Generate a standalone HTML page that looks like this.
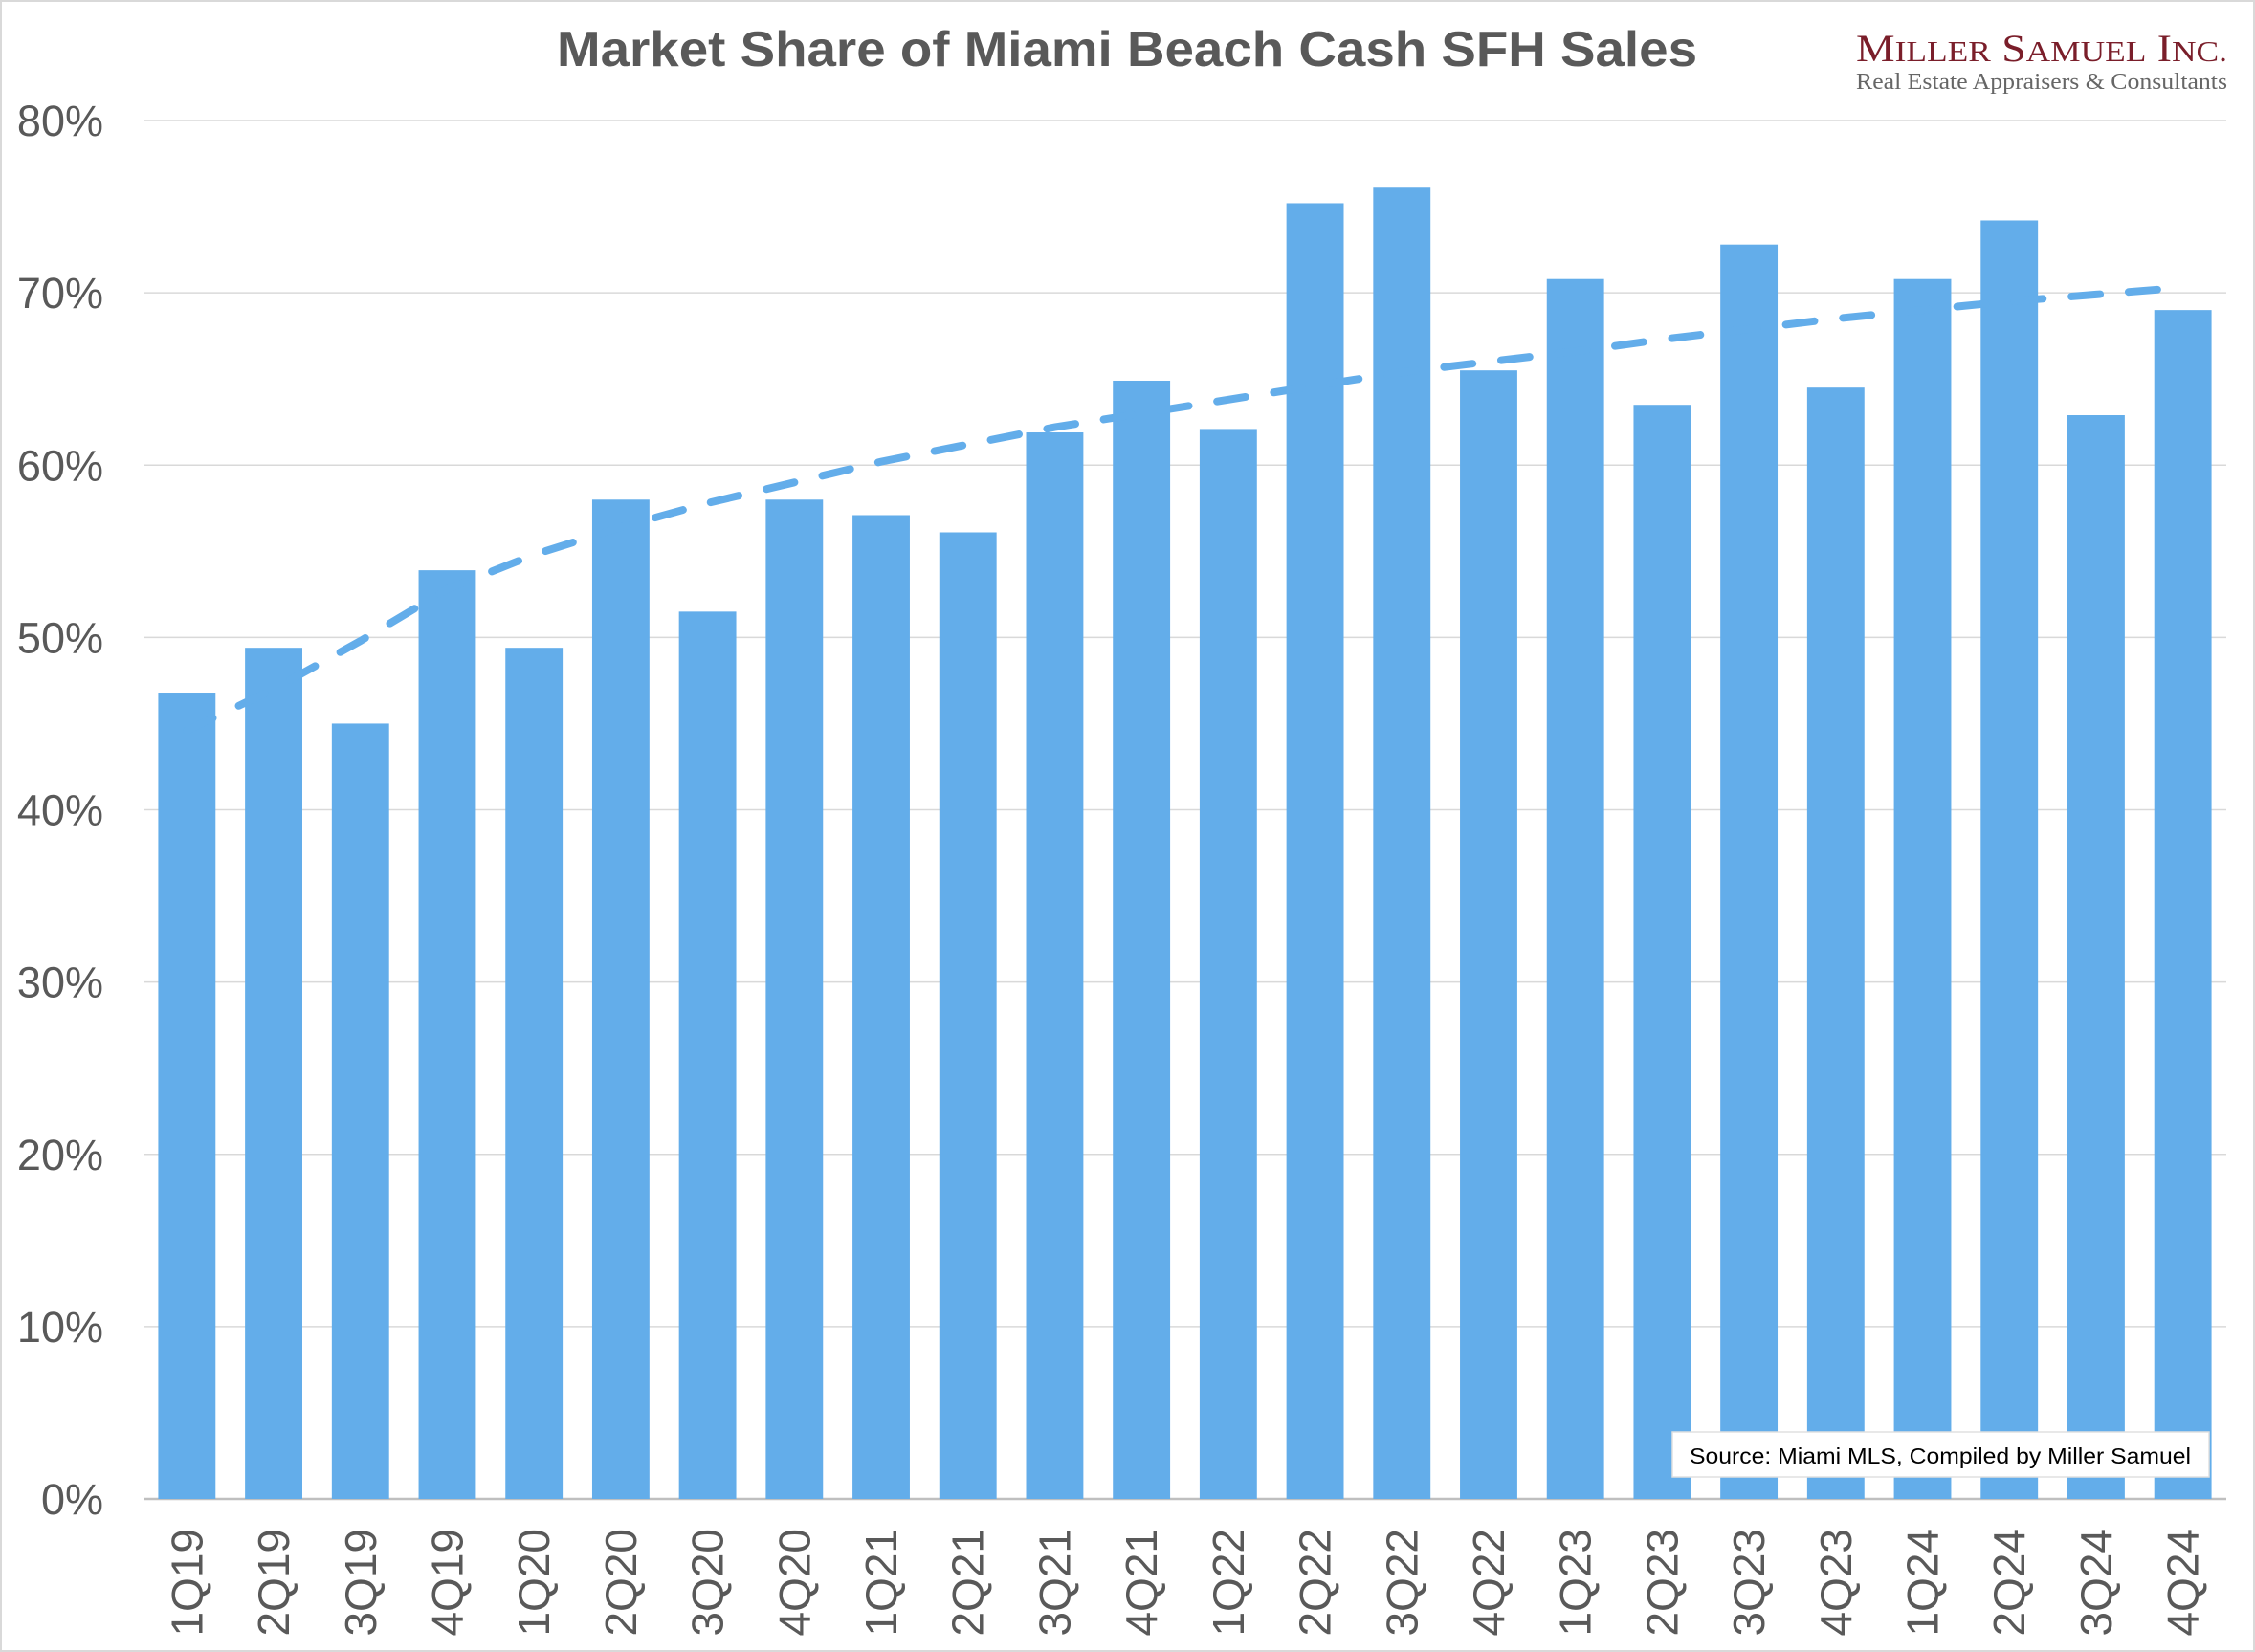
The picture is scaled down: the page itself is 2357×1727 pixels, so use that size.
<!DOCTYPE html>
<html><head><meta charset="utf-8"><style>
html,body{margin:0;padding:0;background:#fff}
svg{display:block}
</style></head><body>
<svg id="chart" width="2357" height="1727" viewBox="0 0 2357 1727" xmlns="http://www.w3.org/2000/svg" font-family="Liberation Sans, sans-serif">
<rect x="1" y="1" width="2355" height="1725" fill="#fff" stroke="#d9d9d9" stroke-width="2"/>
<text x="1178" y="69" text-anchor="middle" font-size="52" font-weight="bold" fill="#595959" textLength="1192" lengthAdjust="spacingAndGlyphs">Market Share of Miami Beach Cash SFH Sales</text>
<g>
<text x="1940" y="64" font-family="Liberation Serif, serif" font-size="40" fill="#7a1e2a" textLength="388" lengthAdjust="spacingAndGlyphs">M<tspan font-size="31">ILLER</tspan> S<tspan font-size="31">AMUEL</tspan> I<tspan font-size="31">NC.</tspan></text>
<text x="1940" y="93" font-family="Liberation Serif, serif" font-size="24" fill="#666" textLength="388" lengthAdjust="spacingAndGlyphs">Real Estate Appraisers &amp; Consultants</text>
</g>
<g id="grid"></g>
<g id="bars"></g>
<g id="trend"></g>
<g id="ylabels"></g>
<g id="xlabels"></g>
<g>
<rect x="1748" y="1497" width="561" height="47" fill="#fff" stroke="#e0e0e0" stroke-width="1.5"/>
<text x="1766" y="1530" font-size="23" fill="#000" textLength="524" lengthAdjust="spacingAndGlyphs">Source: Miami MLS, Compiled by Miller Samuel</text>
</g>
</svg>
<script>
const categories=["1Q19","2Q19","3Q19","4Q19","1Q20","2Q20","3Q20","4Q20","1Q21","2Q21","3Q21","4Q21","1Q22","2Q22","3Q22","4Q22","1Q23","2Q23","3Q23","4Q23","1Q24","2Q24","3Q24","4Q24"];
const shareValues=[46.8,49.4,45.0,53.9,49.4,58.0,51.5,58.0,57.1,56.1,61.9,64.9,62.1,75.2,76.1,65.5,70.8,63.5,72.8,64.5,70.8,74.2,62.9,69.0];
const trendValues=[44.6,47.0,49.8,52.8,54.8,56.4,57.8,59.0,60.2,61.2,62.2,63.0,63.8,64.6,65.4,66.0,66.6,67.3,67.9,68.5,69.0,69.5,69.9,70.3];
const yTicks=[0,10,20,30,40,50,60,70,80];
const yTickLabels=["0%","10%","20%","30%","40%","50%","60%","70%","80%"];

const NS="http://www.w3.org/2000/svg";
const L=150,R=2327,T=126,B=1567,YMAX=80;
const band=(R-L)/categories.length;
const xC=i=>L+band*(i+0.5);
const yS=v=>B-(v/YMAX)*(B-T);
function mk(tag,attrs,parent){const e=document.createElementNS(NS,tag);for(const k in attrs)e.setAttribute(k,attrs[k]);parent.appendChild(e);return e;}

const grid=document.getElementById('grid');
yTicks.forEach((t,i)=>{
  const ln=mk('line',{x1:L,x2:R,y1:yS(t),y2:yS(t),stroke:t===0?'#bfbfbf':'#d9d9d9','stroke-width':t===0?2.5:1.5},grid);
  
  
  const tx=mk('text',{x:108,y:yS(t)+16,'text-anchor':'end','font-size':45,fill:'#595959'},document.getElementById('ylabels'));
  tx.textContent=yTickLabels[i];
  
  
});

const bars=document.getElementById('bars');
const bw=band*0.66;
shareValues.forEach((v,i)=>{
  const r=mk('rect',{x:xC(i)-bw/2,y:yS(v),width:bw,height:B-yS(v),fill:'#63adea'},bars);
  
  
  const tx=mk('text',{transform:`translate(${xC(i)+16},1598) rotate(-90)`,'text-anchor':'end','font-size':46,fill:'#595959'},document.getElementById('xlabels'));
  tx.textContent=categories[i];
  
  
});

const d=trendValues.map((v,i)=>(i?'L':'M')+xC(i).toFixed(1)+','+yS(v).toFixed(1)).join(' ');
const p=mk('path',{d:d,fill:'none',stroke:'#63adea','stroke-width':8,'stroke-dasharray':'30 30','stroke-linecap':'round'},document.getElementById('trend'));


</script>
</body></html>
